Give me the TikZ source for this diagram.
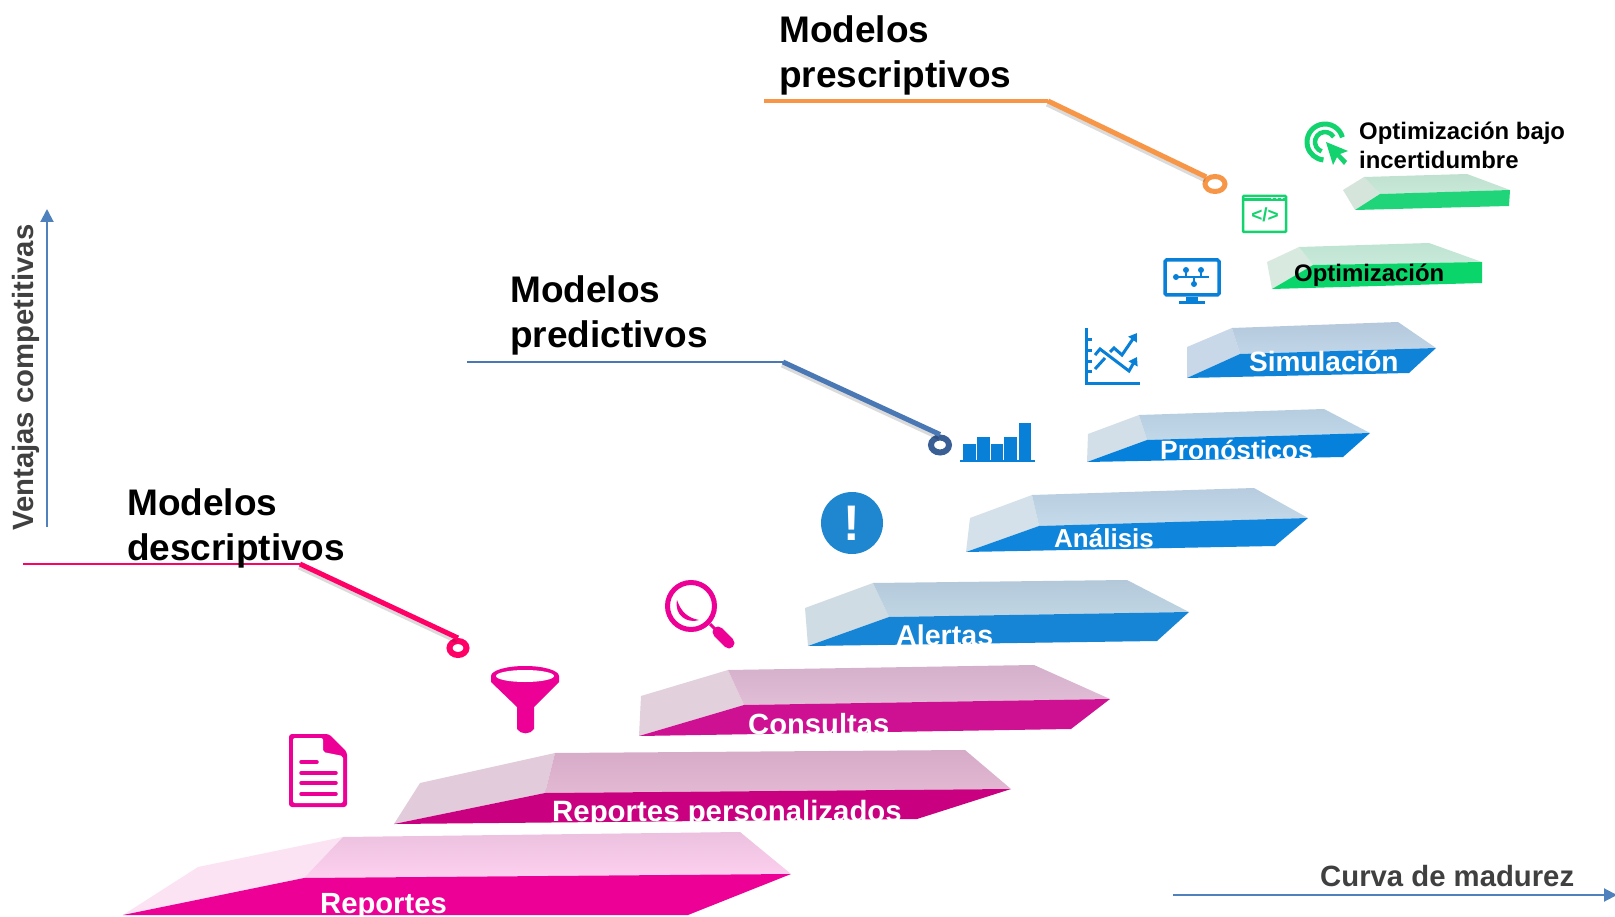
\documentclass[tikz,border=0pt]{standalone}
\usepackage{fontspec}
\setmainfont{Liberation Sans}
\usetikzlibrary{arrows.meta,shapes.geometric}
\definecolor{pinkicon}{HTML}{EC0095}
\definecolor{blueicon}{HTML}{0880D8}
\definecolor{alertblue}{HTML}{1F87CF}
\definecolor{greenicon}{HTML}{12D36E}
\definecolor{pinkline}{HTML}{FF0066}
\definecolor{blueline}{HTML}{4A78B4}
\definecolor{bluering}{HTML}{3A5F95}
\definecolor{orangeline}{HTML}{F79646}
\definecolor{axisblue}{HTML}{4F81BD}
\definecolor{axistext}{HTML}{404040}
\tikzset{
  headlabel/.style={anchor=base west,inner sep=0pt,align=left,font=\fontsize{37}{45}\selectfont\bfseries},
  steplabel/.style={anchor=base west,inner sep=0pt,text=white,font=\fontsize{#1}{#1}\selectfont\bfseries},
  blacklabel/.style={anchor=base west,inner sep=0pt,align=left,font=\fontsize{23.9}{29}\selectfont\bfseries},
  axislabel/.style={anchor=base west,inner sep=0pt,text=axistext,font=\fontsize{#1}{#1}\selectfont\bfseries},
  ring/.style={ellipse,draw=#1,fill=white,line width=6pt,inner sep=0pt,minimum width=18pt,minimum height=15pt},
  leadshadow/.style={draw=black,opacity=.14,line width=5pt},
  axisline/.style={draw=axisblue,line width=2pt,-{Triangle[length=13pt,width=13pt]}},
  iconline/.style={line width=#1,line cap=round}
}
\begin{document}
\begin{tikzpicture}[x=1pt,y=-1pt]
  \useasboundingbox (0,0) rectangle (1615,917);
  % Reportes
  \fill[fill=white] (0,0) rectangle (1615,917);
  \fill[color={rgb,255:red,252;green,227;blue,244}] (123,915) -- (198,867) -- (343,837) -- (304,878) -- cycle;
  \shade[top color={rgb,255:red,236;green,192;blue,223},bottom color={rgb,255:red,252;green,208;blue,238}] (343,837) -- (740,832) -- (791,874) -- (304,878) -- cycle;
  \fill[pinkicon] (123,915) -- (304,878) -- (791,874) -- (688,915) -- cycle;
  % Reportes personalizados
  \fill[color={rgb,255:red,226;green,204;blue,219}] (394,824) -- (420,783) -- (555,753) -- (545,793) -- cycle;
  \shade[top color={rgb,255:red,214;green,171;blue,200},bottom color={rgb,255:red,227;green,184;blue,210}] (555,753) -- (965,750) -- (1011,789) -- (545,793) -- cycle;
  \fill[color={rgb,255:red,201;green,0;blue,127}] (394,824) -- (545,793) -- (1011,789) -- (917,819) -- cycle;
  % Consultas
  \fill[color={rgb,255:red,226;green,208;blue,220}] (639,736) -- (641,696) -- (728,670) -- (744,705) -- cycle;
  \shade[top color={rgb,255:red,213;green,176;blue,204},bottom color={rgb,255:red,226;green,189;blue,214}] (728,670) -- (1034,665) -- (1110,699) -- (744,705) -- cycle;
  \fill[color={rgb,255:red,206;green,17;blue,146}] (639,736) -- (744,705) -- (1110,699) -- (1071,729) -- cycle;
  % Alertas
  \fill[color={rgb,255:red,208;green,220;blue,228}] (808,646) -- (805,608) -- (873,583) -- (889,617) -- cycle;
  \shade[top color={rgb,255:red,179;green,201;blue,218},bottom color={rgb,255:red,193;green,214;blue,228}] (873,583) -- (1127,580) -- (1189,612) -- (889,617) -- cycle;
  \fill[color={rgb,255:red,22;green,133;blue,213}] (808,646) -- (889,617) -- (1189,612) -- (1157,641) -- cycle;
  % Analisis
  \fill[color={rgb,255:red,213;green,225;blue,234}] (966,552) -- (970,518) -- (1032,495) -- (1039,526) -- cycle;
  \shade[top color={rgb,255:red,183;green,204;blue,222},bottom color={rgb,255:red,197;green,218;blue,234}] (1032,495) -- (1254,488) -- (1308,518) -- (1039,526) -- cycle;
  \fill[color={rgb,255:red,15;green,133;blue,219}] (966,552) -- (1039,526) -- (1308,518) -- (1275,546) -- cycle;
  % Pronosticos
  \fill[color={rgb,255:red,211;green,223;blue,232}] (1087,462) -- (1088,434) -- (1139,415) -- (1147,440) -- cycle;
  \shade[top color={rgb,255:red,181;green,205;blue,223},bottom color={rgb,255:red,192;green,216;blue,232}] (1139,415) -- (1324,409) -- (1370,433) -- (1147,440) -- cycle;
  \fill[color={rgb,255:red,5;green,128;blue,219}] (1087,462) -- (1147,440) -- (1370,433) -- (1343,457) -- cycle;
  % Simulacion
  \fill[color={rgb,255:red,200;green,216;blue,232}] (1187,378) -- (1187,347) -- (1232,328) -- (1240,354) -- cycle;
  \shade[top color={rgb,255:red,181;green,200;blue,220},bottom color={rgb,255:red,192;green,214;blue,232}] (1232,328) -- (1398,322) -- (1436,348) -- (1240,354) -- cycle;
  \fill[color={rgb,255:red,15;green,131;blue,216}] (1187,378) -- (1240,354) -- (1436,348) -- (1409,373) -- cycle;
  % Optimizacion
  \fill[color={rgb,255:red,216;green,234;blue,223}] (1272,289) -- (1267,262) -- (1299,247) -- (1313,265) -- cycle;
  \shade[top color={rgb,255:red,191;green,227;blue,210},bottom color={rgb,255:red,200;green,234;blue,218}] (1299,247) -- (1429,243) -- (1482,262) -- (1313,265) -- cycle;
  \fill[color={rgb,255:red,10;green,213;blue,107}] (1272,289) -- (1313,265) -- (1482,262) -- (1482,283) -- cycle;
  % Optimizacion bajo incertidumbre
  \fill[color={rgb,255:red,213;green,229;blue,220}] (1355,210) -- (1343,190) -- (1364,177) -- (1380,194) -- cycle;
  \shade[top color={rgb,255:red,192;green,224;blue,208},bottom color={rgb,255:red,200;green,232;blue,216}] (1364,177) -- (1467,174) -- (1510,190) -- (1380,194) -- cycle;
  \fill[color={rgb,255:red,32;green,212;blue,122}] (1355,210) -- (1380,194) -- (1510,190) -- (1509,206) -- cycle;

  % step labels
  \node[steplabel=29.2] (reportes) at (320,913) {Reportes};
  \node[steplabel=29.4] (personalizados) at (552,821) {Reportes personalizados};
  \node[steplabel=29.2] (consultas) at (748,734) {Consultas};
  \node[steplabel=28.6] (alertas) at (896,645) {Alertas};
  \node[steplabel=26] (analisis) at (1054,547) {Análisis};
  \node[steplabel=26.4] (pronosticos) at (1160,459) {Pronósticos};
  \node[steplabel=28] (simulacion) at (1249,371) {Simulación};
  \node[blacklabel] (optimizacion) at (1294,282) {Optimización};
  \node[blacklabel] (incertidumbre) at (1359,169) {Optimización bajo\\incertidumbre};

  % leader lines
  \coordinate (desc0) at (23,564);
  \coordinate (desc1) at (300,564);
  \node[ring=pinkline,minimum width=17pt,minimum height=14pt] (descring) at (458,648) {};
  \draw[leadshadow] ([shift={(-1,3)}]desc1) -- ([shift={(-1,3)}]descring.north);
  \draw[pinkline,line width=1.5pt] (desc0) -- (desc1);
  \draw[pinkline,line width=5pt] (desc1) -- (descring.north);
  \coordinate (pred0) at (467,362);
  \coordinate (pred1) at (783,362);
  \node[ring=bluering] (predring) at (940,445) {};
  \draw[leadshadow] ([shift={(-1,3)}]pred1) -- ([shift={(-1,3)}]predring.north);
  \draw[blueline,line width=1.5pt] (pred0) -- (pred1);
  \draw[blueline,line width=5pt] (pred1) -- (predring.north);
  \coordinate (pres0) at (764,101);
  \coordinate (pres1) at (1048,101);
  \node[ring=orangeline,line width=5pt,minimum width=20pt,minimum height=15pt] (presring) at (1215,184) {};
  \draw[leadshadow] ([shift={(-1,3)}]pres1) -- ([shift={(-1,3)}]presring.north west);
  \draw[orangeline,line width=4pt] (pres0) -- (pres1);
  \draw[orangeline,line width=5pt] (pres1) -- (presring.north west);

  % group labels
  \node[headlabel] (descriptivos) at (127,560) {Modelos\\descriptivos};
  \node[headlabel] (predictivos) at (510,347.5) {Modelos\\predictivos};
  \node[headlabel] (prescriptivos) at (779,88) {Modelos\\prescriptivos};

  % axes
  \coordinate (vaxis0) at (47,527);
  \coordinate (vaxis1) at (47,209);
  \coordinate (haxis0) at (1173,895);
  \coordinate (haxis1) at (1617,895);
  \draw[axisline] (vaxis0) -- (vaxis1);
  \draw[axisline] (haxis0) -- (haxis1);
  \node[axislabel=29.3,rotate=90] (ventajas) at (33,531) {Ventajas competitivas};
  \node[axislabel=29.3] (madurez) at (1320,886) {Curva de madurez};

  % document icon
  \fill[pinkicon,rounded corners=3pt] (289,734) -- (329,734) -- (347,752) -- (347,807) -- (289,807) -- cycle;
  \fill[white,rounded corners=2pt] (293,738) -- (323,738) -- (323,752) -- (343,756) -- (343,803) -- (293,803) -- cycle;
  \draw[pinkicon,iconline=3.5pt] (301,762) -- (317,762);
  \draw[pinkicon,iconline=3.5pt] (301,773) -- (336,773);
  \draw[pinkicon,iconline=3.5pt] (301,783) -- (336,783);
  \draw[pinkicon,iconline=3.5pt] (301,794) -- (336,794);
  % funnel icon
  \fill[pinkicon] (491,676) -- (491,682) -- (517,707) -- (517,729) to[bend right=60] (534,729) -- (534,707) -- (559,682) -- (559,676) -- cycle;
  \node[ellipse,fill=pinkicon,inner sep=0pt,minimum width=68pt,minimum height=20pt] (funnelrim) at (525,676) {};
  \node[ellipse,fill=white,inner sep=0pt,minimum width=58pt,minimum height=12pt] (funnelhole) at (525,676) {};
  % magnifier icon
  \node[circle,draw=pinkicon,line width=5pt,inner sep=0pt,minimum size=47pt] (lens) at (691,606) {};
  \draw[pinkicon,line width=11pt,line cap=round] (718,632) -- (729,643);
  \draw[pinkicon,line width=3pt] (710,624) -- (718,632);
  \fill[pinkicon] (677,600) .. controls (674,615) and (687,624) .. (699,620) .. controls (688,618) and (681,612) .. cycle;
  % alert icon
  \node[circle,fill=alertblue,text=white,inner sep=0pt,minimum size=62pt,font=\fontsize{50}{50}\selectfont\bfseries] (alerticon) at (852,523) {!};
  % bar icon
  \fill[blueicon] (963,444) rectangle (976,460);
  \fill[blueicon] (977,437) rectangle (990,460);
  \fill[blueicon] (991,444) rectangle (1003,460);
  \fill[blueicon] (1004,437) rectangle (1017,460);
  \fill[blueicon] (1019,423) rectangle (1031,460);
  \draw[blueicon,line width=1.5pt] (960,461) -- (1035,461);
  % trend icon
  \draw[blueicon,line width=3pt] (1086,328) -- (1086,383) -- (1140,383);
  \draw[blueicon,line width=3pt] (1086,340) -- (1092,340);
  \draw[blueicon,line width=3pt] (1086,351) -- (1092,351);
  \draw[blueicon,line width=3pt] (1086,362) -- (1092,362);
  \draw[blueicon,line width=3pt] (1086,372) -- (1092,372);
  \draw[blueicon,line width=3pt] (1095,369) -- (1105,358);
  \draw[blueicon,line width=3pt,-{Triangle[length=8pt,width=10pt]}] (1095,355) -- (1100,349) -- (1129,371) -- (1137,357);
  \draw[blueicon,line width=3pt,-{Triangle[length=8pt,width=10pt]}] (1110,352) -- (1114,348) -- (1122,355) -- (1137,333);
  % monitor icon
  \draw[blueicon,line width=3.5pt,rounded corners=1.5pt] (1165,260) rectangle (1219,295);
  \fill[blueicon] (1186,297) rectangle (1198,301);
  \fill[blueicon] (1179,301) rectangle (1205,304);
  \draw[blueicon,line width=2.5pt] (1176,277) -- (1209,277);
  \draw[blueicon,line width=2.5pt] (1186,270) -- (1186,277);
  \draw[blueicon,line width=2.5pt] (1201,270) -- (1201,277);
  \draw[blueicon,line width=2.5pt] (1194,277) -- (1194,284);
  \fill[blueicon] (1176,277) circle[radius=3pt];
  \fill[blueicon] (1186,270) circle[radius=3pt];
  \fill[blueicon] (1201,270) circle[radius=3pt];
  \fill[blueicon] (1194,284) circle[radius=3pt];
  % code icon
  \draw[greenicon,line width=2.5pt,rounded corners=1pt] (1243,196) rectangle (1286,232);
  \draw[greenicon,line width=3pt] (1243,200) -- (1286,200);
  \fill[white] (1272,198) circle[radius=1.2pt];
  \fill[white] (1277,198) circle[radius=1.2pt];
  \fill[white] (1282,198) circle[radius=1.2pt];
  \node[inner sep=0pt,text=greenicon,font=\fontsize{19}{19}\selectfont\bfseries] (codetag) at (1265,215) {</>};
  % target icon
  \draw[greenicon,line width=5pt] (1325,142) ++(15:18pt) arc[start angle=15,end angle=265,radius=18pt];
  \draw[greenicon,line width=4.5pt] (1325,142) ++(30:10pt) arc[start angle=30,end angle=250,radius=10pt];
  \fill[greenicon] (1326,142) -- (1348,151) -- (1340,154) -- (1347,161) -- (1344,165) -- (1337,157) -- (1333,165) -- cycle;
\end{tikzpicture}
\end{document}
